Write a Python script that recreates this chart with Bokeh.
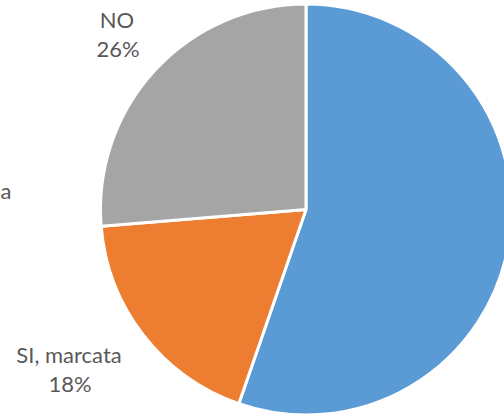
import math
from bokeh.plotting import figure
from bokeh.models import Range1d, ColumnDataSource
from bokeh.core.properties import value
from bokeh.embed import file_html
from bokeh.resources import INLINE

# data
categories = ["SI, lieve", "SI, marcata", "NO"]
values = [55.3, 18.4, 26.3]
label_names = ["", "SI, marcata", "NO"]
label_pcts = ["", "18%", "26%"]
colors = ["#5B9BD5", "#ED7D31", "#A5A5A5"]

W, H = 504, 418
p = figure(width=W, height=H, output_backend="svg", toolbar_location=None,
           x_range=Range1d(0, W), y_range=Range1d(0, H), min_border=0)
p.axis.visible = False
p.grid.visible = False
p.outline_line_color = None
p.background_fill_color = "white"

cx, cy, r = 305.5, 209.0, 205.5
total = sum(values)
starts, ends, cum = [], [], 0.0
for v in values:
    starts.append(math.pi / 2 - 2 * math.pi * cum / total)
    cum += v
    ends.append(math.pi / 2 - 2 * math.pi * cum / total)

src = ColumnDataSource(dict(start=starts, end=ends, color=colors, cat=categories))
p.wedge(x=cx, y=cy, radius=r, start_angle="start", end_angle="end", direction="clock",
        fill_color="color", line_color="white", line_width=3, source=src)

# label positions relative to pie centre (layout)
offsets = [(320, 0), (-237, -145), (-189, 190)]
line_gap = 29
nx = [cx + o[0] for o in offsets]
ny = [cy + o[1] for o in offsets]
py = [y - line_gap for y in ny]
font = dict(text_align="center", text_baseline="middle", text_font=value("Lato"),
            text_font_size="22px", text_color="#595959")
p.text(x=nx, y=ny, text=label_names, **font)
p.text(x=[x + 1 for x in nx], y=py, text=label_pcts, **font)

p.text(x=[0], y=[H - 190], text=["a"], text_align="left", text_baseline="middle",
       text_font=value("Lato"), text_font_size="22px", text_color="#595959")

open("out.html", "w").write(file_html(p, INLINE))
